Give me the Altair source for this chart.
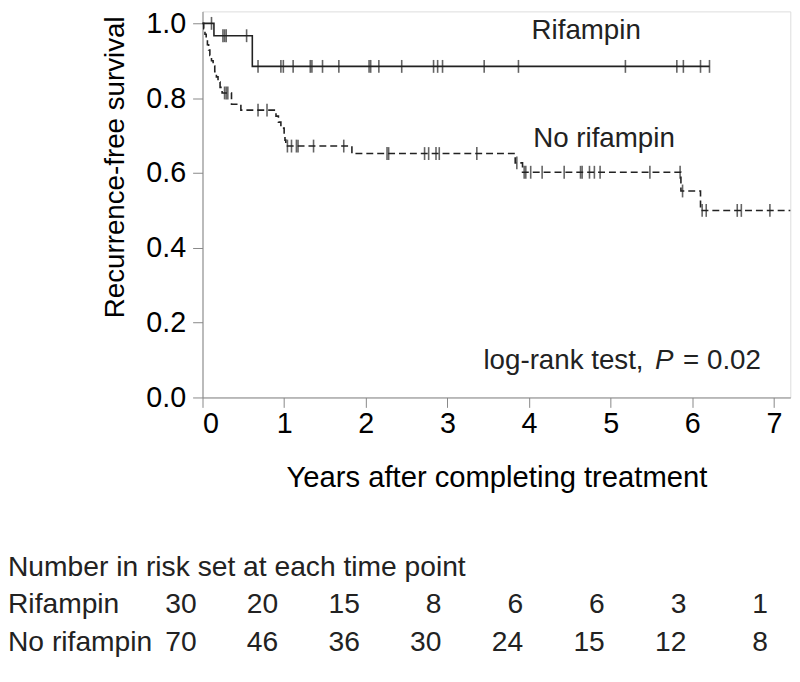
import altair as alt
import pandas as pd

# ---------------- data ----------------
# Rifampin group: step change points (years, survival)
rif_time = [0.0, 0.14, 0.61, 6.21]
rif_surv = [1.0, 0.967, 0.885, 0.885]
rif_cens = [0.11, 0.25, 0.27, 0.29, 0.54, 0.68, 0.96, 0.99, 1.11, 1.32, 1.34,
            1.47, 1.67, 2.04, 2.06, 2.16, 2.44, 2.83, 2.88, 2.94, 3.45, 3.87,
            5.18, 5.81, 5.89, 6.10, 6.21]

# No rifampin group: step change points
nr_time = [0.0, 0.015, 0.03, 0.045, 0.06, 0.075, 0.09, 0.11, 0.13, 0.15, 0.17,
           0.19, 0.215, 0.24, 0.355, 0.47, 0.90, 0.93, 0.96, 1.00, 1.01, 1.02,
           1.83, 3.83, 3.92, 5.86, 6.10, 7.2]
nr_surv = [1.0, 0.986, 0.971, 0.957, 0.943, 0.929, 0.914, 0.900, 0.886, 0.871,
           0.857, 0.843, 0.829, 0.814, 0.784, 0.768, 0.752, 0.736, 0.720, 0.704,
           0.688, 0.672, 0.652, 0.627, 0.602, 0.552, 0.500, 0.500]
nr_cens = [0.27, 0.29, 0.31, 0.68, 0.79, 1.04, 1.09, 1.15, 1.17, 1.36, 1.73,
           2.26, 2.28, 2.72, 2.77, 2.86, 2.90, 3.36, 3.85, 3.94, 3.96, 4.02,
           4.16, 4.43, 4.63, 4.65, 4.74, 4.80, 4.87, 5.48, 5.85, 5.88, 6.12,
           6.17, 6.55, 6.60, 6.95]

# Number at risk table
risk_years = [0, 1, 2, 3, 4, 5, 6, 7]
risk_rif = [30, 20, 15, 8, 6, 6, 3, 1]
risk_nr = [70, 46, 36, 30, 24, 15, 12, 8]

group_labels = ["Rifampin", "No rifampin"]

# ---------------- helpers ----------------
def level_at(times, survs, t):
    s = survs[0]
    for tt, ss in zip(times, survs):
        if tt <= t:
            s = ss
    return s

rif_df = pd.DataFrame({"t": rif_time, "s": rif_surv})
nr_df = pd.DataFrame({"t": nr_time, "s": nr_surv})
rif_c = pd.DataFrame({"t": rif_cens, "s": [level_at(rif_time, rif_surv, t) for t in rif_cens]})
nr_c = pd.DataFrame({"t": nr_cens, "s": [level_at(nr_time, nr_surv, t) for t in nr_cens]})

W = 593.8
H = 390
INK = "#222222"
FONT = "Liberation Sans"

xs = alt.Scale(domain=[0, 7.2], nice=False, zero=False)
ys = alt.Scale(domain=[0, 1.032], nice=False)

x_axis = alt.Axis(values=list(range(8)), format="d", title="Years after completing treatment",
                  titleX=W / 2, titleY=90, titleBaseline="alphabetic", titleAlign="center",
                  titleFontSize=29.5, titleFontWeight="normal", labelFontSize=29,
                  labelPadding=2, tickSize=10, grid=False)
y_axis = alt.Axis(values=[0, 0.2, 0.4, 0.6, 0.8, 1.0], format=".1f",
                  title="Recurrence-free survival", titleAngle=270, titleX=-79.5,
                  titleY=157, titleBaseline="alphabetic", titleAlign="center",
                  titleFontSize=28, titleFontWeight="normal", labelFontSize=29,
                  labelPadding=7, tickSize=10, grid=False)

rif_line = alt.Chart(rif_df).mark_line(interpolate="step-after", color=INK, strokeWidth=1.6).encode(
    x=alt.X("t:Q", scale=xs, axis=x_axis),
    y=alt.Y("s:Q", scale=ys, axis=y_axis),
)
nr_line = alt.Chart(nr_df).mark_line(interpolate="step-after", color=INK, strokeWidth=1.6,
                                     strokeDash=[7, 4]).encode(
    x=alt.X("t:Q", scale=xs), y=alt.Y("s:Q", scale=ys))
rif_ticks = alt.Chart(rif_c).mark_tick(orient="vertical", size=13, thickness=1.6, color=INK).encode(
    x=alt.X("t:Q", scale=xs), y=alt.Y("s:Q", scale=ys))
nr_ticks = alt.Chart(nr_c).mark_tick(orient="vertical", size=13, thickness=1.6, color=INK).encode(
    x=alt.X("t:Q", scale=xs), y=alt.Y("s:Q", scale=ys))

# curve labels and test annotation
ann = pd.DataFrame({
    "x": [4.03, 4.05, 3.441, 5.544, 5.887],
    "y": [0.958, 0.669, 0.077, 0.077, 0.077],
    "txt": [group_labels[0], group_labels[1], "log-rank test,", "P", "= 0.02"],
    "style": ["normal", "normal", "normal", "italic", "normal"],
})
ann_normal = alt.Chart(ann[ann["style"] == "normal"]).mark_text(
    align="left", baseline="alphabetic", fontSize=28, font=FONT, color=INK).encode(
    x=alt.X("x:Q", scale=xs), y=alt.Y("y:Q", scale=ys), text="txt:N")
ann_italic = alt.Chart(ann[ann["style"] == "italic"]).mark_text(
    align="left", baseline="alphabetic", fontSize=28, font=FONT, color=INK, fontStyle="italic").encode(
    x=alt.X("x:Q", scale=xs), y=alt.Y("y:Q", scale=ys), text="txt:N")

# at-risk table
risk_df = pd.DataFrame({
    "year": risk_years * 2,
    "n": risk_rif + risk_nr,
    "row": [group_labels[0]] * 8 + [group_labels[1]] * 8,
})
risk_rif_txt = alt.Chart(risk_df[risk_df["row"] == group_labels[0]]).mark_text(
    align="right", baseline="middle", dx=-6, fontSize=28.5, font=FONT, color=INK).encode(
    x=alt.X("year:Q", scale=xs), y=alt.value(599), text="n:Q")
risk_nr_txt = alt.Chart(risk_df[risk_df["row"] == group_labels[1]]).mark_text(
    align="right", baseline="middle", dx=-6, fontSize=28.5, font=FONT, color=INK).encode(
    x=alt.X("year:Q", scale=xs), y=alt.value(637), text="n:Q")

row_lab = pd.DataFrame({"txt": ["Number in risk set at each time point"] + group_labels,
                        "py": [561, 599, 637]})
row_txt = alt.Chart(row_lab).mark_text(align="left", baseline="middle", fontSize=28.5,
                                       font=FONT, color=INK).encode(
    x=alt.value(-196.5), y=alt.Y("py:Q", scale=None), text="txt:N")

chart = alt.layer(rif_line, nr_line, rif_ticks, nr_ticks, ann_normal, ann_italic,
                  risk_rif_txt, risk_nr_txt, row_txt).properties(
    width=W, height=H,
    autosize=alt.AutoSizeParams(type="none"),
    padding={"left": 196.5, "top": 0, "right": 1.7, "bottom": 284},
).configure_view(stroke=None).configure_axis(
    domainColor=INK, domainWidth=1.6, tickColor=INK, tickWidth=1.6,
    labelColor=INK, titleColor=INK, labelFont=FONT, titleFont=FONT,
).configure(background="white")

chart.save("out.html", embed_options={"renderer": "svg", "actions": False})
